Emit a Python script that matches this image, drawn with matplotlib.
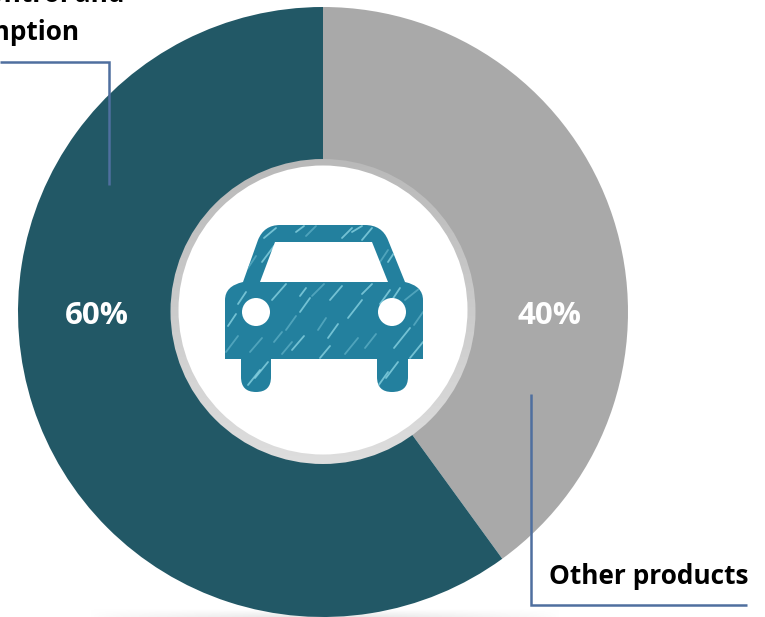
import numpy as np
import matplotlib
matplotlib.use("Agg")
import matplotlib.pyplot as plt
from matplotlib.colors import LinearSegmentedColormap
from matplotlib.patches import Circle, PathPatch
from matplotlib.path import Path

plt.rcParams['font.family'] = ['Open Sans', 'DejaVu Sans']

categories = ["Other products", "Emission control and fuel consumption"]
shares = [40, 60]
colors = ["#a9a9a9", "#225866"]

cx, cy = 323, 312
radius = 305

fig = plt.figure(figsize=(7.65, 6.17), dpi=100)
ax = fig.add_axes([0, 0, 1, 1])

# y axis runs downwards, so -90 is the top and counterclock turns clockwise on screen
ax.pie(shares, colors=colors, startangle=-90, counterclock=True,
       center=(cx, cy), radius=radius, frame=False)

# soft shadow under the donut, fading out to both sides
sx = np.linspace(-1, 1, 200)
sy = np.linspace(0, 1, 12)
shadow = np.outer(sy, np.clip(1 - np.abs(sx), 0, 1) ** 0.7)
shadow_cmap = LinearSegmentedColormap.from_list("shadow", ["#ffffff", "#e6e6e6"])
ax.imshow(shadow, cmap=shadow_cmap, extent=(90, 560, 617, 609), aspect='auto',
          vmin=0, vmax=1, zorder=0.5)

# grey ring round the centre, darker towards the bottom
ramp = np.linspace(0, 1, 256).reshape(-1, 1)
ring_cmap = LinearSegmentedColormap.from_list("ring", ["#dedede", "#b9b9b9"])
ring = ax.imshow(ramp, cmap=ring_cmap, extent=(170, 476, 465, 158), aspect='auto',
                 origin='lower', zorder=3)
ring.set_clip_path(Circle((323, 311.5), 152.5, transform=ax.transData))
ax.add_patch(Circle((323, 310), 144.5, fc="white", ec="none", zorder=4))

ax.set_xlim(0, 765)
ax.set_ylim(617, 0)
ax.set_aspect('equal')
ax.axis('off')

# car icon
M, L, Q, Z = Path.MOVETO, Path.LINETO, Path.CURVE3, Path.CLOSEPOLY
car_cmds = [
    (M, (225, 359)), (L, (225, 300)), (Q, (225, 286)), (Q, (243, 282)),
    (L, (258, 240)), (Q, (264, 225)), (Q, (280, 225)),
    (L, (365, 225)), (Q, (382, 225)), (Q, (388, 240)),
    (L, (405, 282)), (Q, (423, 286)), (Q, (423, 300)),
    (L, (423, 359)), (L, (408, 359)), (L, (408, 377)),
    (Q, (408, 392)), (Q, (392, 392)), (Q, (377, 392)), (Q, (377, 377)),
    (L, (377, 359)), (L, (271, 359)), (L, (271, 377)),
    (Q, (271, 392)), (Q, (256, 392)), (Q, (241, 392)), (Q, (241, 377)),
    (L, (241, 359)), (Z, (225, 359)),
]
codes = [c for c, _ in car_cmds]
verts = [v for _, v in car_cmds]
car = PathPatch(Path(verts, codes), fc="#23809e", ec="none", zorder=5)
ax.add_patch(car)

# chalk strokes across the icon
streaks = [
    (226, 352, 238, 336), (228, 326, 236, 314), (248, 385, 260, 370), (250, 352, 262, 338),
    (262, 262, 274, 246), (272, 300, 286, 284), (286, 330, 296, 316), (292, 350, 304, 336),
    (300, 312, 310, 298), (312, 296, 324, 284), (328, 338, 338, 324), (330, 300, 342, 286),
    (345, 354, 358, 338), (348, 318, 362, 300), (362, 240, 372, 228), (376, 268, 388, 250),
    (380, 304, 390, 290), (394, 348, 410, 328), (405, 300, 420, 288), (386, 378, 398, 362),
    (264, 238, 276, 228), (306, 236, 316, 226), (342, 238, 352, 228), (410, 358, 423, 342),
    (365, 348, 376, 334), (320, 358, 330, 346), (238, 304, 246, 292), (282, 354, 292, 342),
    (362, 294, 372, 284), (392, 300, 400, 288), (414, 325, 423, 312), (300, 296, 306, 288),
    (388, 262, 396, 250), (248, 268, 256, 256), (378, 386, 388, 372), (255, 378, 268, 362),
    (318, 330, 326, 318), (352, 232, 362, 226), (296, 232, 304, 226), (274, 342, 282, 332),
]
for i, (x0, y0, x1, y1) in enumerate(streaks):
    line, = ax.plot([x0, x1], [y0, y1], color="#8fd8e6" if i % 3 else "#5fb0c6",
                    lw=1.3, alpha=0.75, solid_capstyle='round', zorder=5.5)
    line.set_clip_path(car)

# windscreen and headlights
ax.add_patch(PathPatch(Path([(275, 242), (372, 242), (388, 282), (260, 282), (275, 242)],
                            [M, L, L, L, Z]), fc="white", ec="none", zorder=6))
ax.add_patch(Circle((256, 312), 14, fc="white", ec="none", zorder=6))
ax.add_patch(Circle((392, 312), 14, fc="white", ec="none", zorder=6))

# percentage labels
ax.text(550, 316, f"{shares[0]}%", color="white", fontsize=22.5, fontweight='bold',
        ha='center', va='center', zorder=7)
ax.text(97, 316, f"{shares[1]}%", color="white", fontsize=22.5, fontweight='bold',
        ha='center', va='center', zorder=7)

# leader lines
line_color = "#4f6f9f"
ax.plot([0, 109.5, 109.5], [62, 62, 185], color=line_color, lw=1.8, zorder=7,
        solid_joinstyle='miter', solid_capstyle='butt')
ax.plot([531, 531, 747], [394, 604.5, 604.5], color=line_color, lw=1.8, zorder=7,
        solid_joinstyle='miter', solid_capstyle='butt')

# category labels, the upper one runs off the canvas
ax.text(549, 576, categories[0], color="black", fontsize=18.9, fontweight='bold',
        ha='left', va='center', zorder=7)
ax.text(124, -5, "Emission control and", color="black", fontsize=18.9, fontweight='bold',
        ha='right', va='center', zorder=7)
ax.text(79, 32, "fuel consumption", color="black", fontsize=18.9, fontweight='bold',
        ha='right', va='center', zorder=7)

fig.savefig("out.png", dpi=100)
